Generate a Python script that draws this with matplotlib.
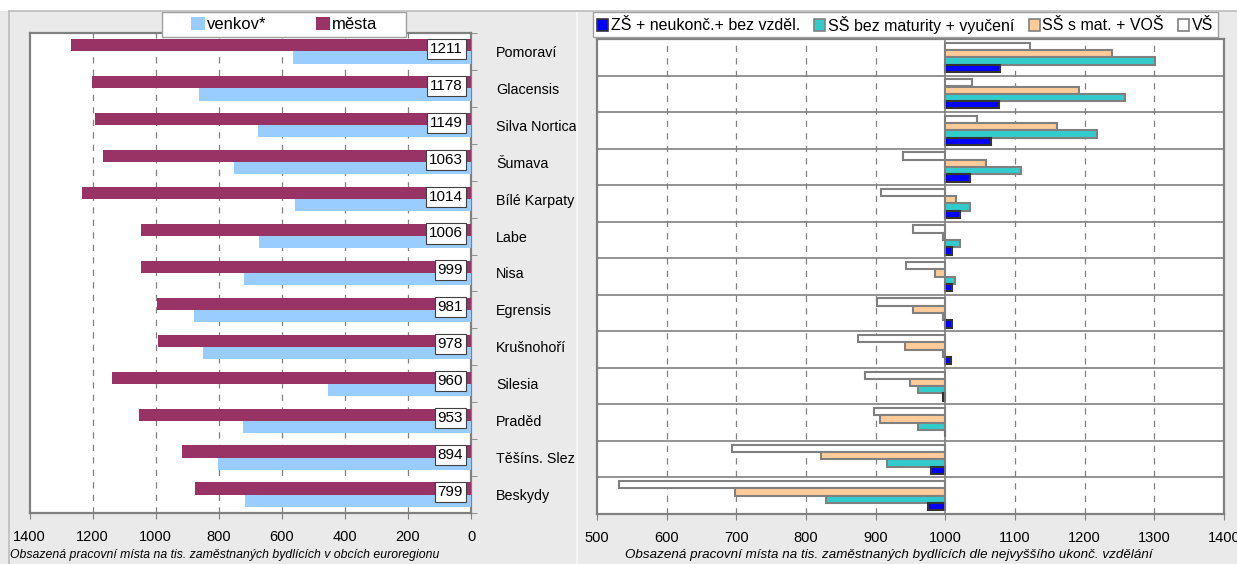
import matplotlib.pyplot as plt
from matplotlib.patches import Patch, Rectangle
from matplotlib.lines import Line2D
import numpy as np

plt.rcParams['font.family'] = ['Liberation Sans', 'DejaVu Sans']

# data
regions = ["Pomoraví", "Glacensis", "Silva Nortica", "Šumava", "Bílé Karpaty", "Labe",
           "Nisa", "Egrensis", "Krušnohoří", "Silesia", "Praděd", "Těšíns. Slez", "Beskydy"]
total = [1211, 1178, 1149, 1063, 1014, 1006, 999, 981, 978, 960, 953, 894, 799]
mesta = [1269, 1202, 1192, 1168, 1234, 1048, 1046, 996, 993, 1139, 1054, 917, 874]
venkov = [563, 861, 674, 753, 557, 673, 719, 878, 850, 455, 724, 803, 717]

zs = [1078, 1077, 1065, 1035, 1021, 1009, 1010, 1010, 1008, 997, 999, 980, 975]
ss_bez = [1301, 1258, 1218, 1108, 1035, 1021, 1014, 996, 996, 961, 961, 916, 829]
ss_mat = [1239, 1192, 1161, 1059, 1015, 997, 985, 954, 942, 949, 906, 821, 698]
vs = [1122, 1038, 1045, 939, 907, 954, 944, 902, 874, 885, 898, 694, 531]

W, H = 1237, 564
fig = plt.figure(figsize=(W / 100, H / 100), dpi=100, facecolor='#EAEAEA')


def px_box(x0, y0, x1, y1, **kw):
    # rectangle in pixel coords (y from top)
    r = Rectangle((x0 / W, 1 - y1 / H), (x1 - x0) / W, (y1 - y0) / H,
                  transform=fig.transFigure, **kw)
    fig.patches.append(r)
    return r


# white strip on top and panel borders
px_box(0, 0, W, 11, facecolor='white', edgecolor='none', zorder=0)
fig.add_artist(Line2D([9 / W, 9 / W], [0, 1 - 11 / H], color='#BDBDBD', lw=1.2))
fig.add_artist(Line2D([577 / W, 577 / W], [0, 1 - 11 / H], color='#F6F6F6', lw=1.5))
fig.add_artist(Line2D([9 / W, 1], [1 - 11 / H, 1 - 11 / H], color='#BDBDBD', lw=1.2))

y = np.arange(len(regions))
grid_grey = '#808080'
dash = (0, (5, 5))

# ---------- left panel ----------
ax1 = fig.add_axes([29.5 / W, (H - 513) / H, (471 - 29.5) / W, (513 - 33) / H])
ax1.barh(y - 0.165, mesta, height=0.33, color='#993366', zorder=3)
ax1.barh(y + 0.165, venkov, height=0.33, color='#99CCFF', zorder=3)
for i, v in enumerate(total):
    ax1.text(25, i - 0.07, str(v), ha='right', va='center', fontsize=11, zorder=5,
             bbox=dict(boxstyle='square,pad=0.2', fc='white', ec='#404040', lw=0.8))
ax1.set_xlim(1400, 0)
ax1.set_ylim(len(regions) - 0.5, -0.5)
ax1.set_xticks(np.arange(1400, -1, -200))
for gx in range(200, 1400, 200):
    ax1.axvline(gx, color=grid_grey, lw=0.9, linestyle=dash, zorder=1)
ax1.yaxis.tick_right()
ax1.set_yticks(y)
ax1.set_yticklabels(regions, fontsize=10.3)
ax1.set_yticks(np.arange(-0.5, len(regions), 1), minor=True)
ax1.tick_params(axis='y', which='major', length=0, pad=18)
ax1.tick_params(axis='y', which='minor', length=4, color=grid_grey, direction='out')
ax1.tick_params(axis='x', labelsize=10.5, length=4, color=grid_grey, pad=8)
for s in ax1.spines.values():
    s.set_color(grid_grey)
    s.set_linewidth(1.6)

px_box(162, 12, 406, 37, facecolor='white', edgecolor='#A0A0A0', lw=1, zorder=1)
fig.legend(handles=[Patch(facecolor='#99CCFF', edgecolor='none', label='venkov*'),
                    Patch(facecolor='#993366', edgecolor='none', label='města')],
           loc='center', bbox_to_anchor=(284 / W, 1 - 24.5 / H),
           ncol=2, fontsize=12, frameon=False, handlelength=0.85, handleheight=0.85,
           handletextpad=0.1, columnspacing=3.0, borderpad=0, borderaxespad=0)

fig.text(10 / W, (H - 555) / H,
         'Obsazená pracovní místa na tis. zaměstnaných bydlících v obcích euroregionu',
         fontsize=8.8, style='italic', ha='left', va='center')

# ---------- right panel ----------
ax2 = fig.add_axes([597 / W, (H - 514) / H, (1224 - 597) / W, (514 - 39) / H])
series = [(vs, 'white', grid_grey, -0.3),
          (ss_mat, '#FFCC99', grid_grey, -0.1),
          (ss_bez, '#33CCCC', grid_grey, 0.1),
          (zs, '#0000FF', '#333333', 0.3)]
for vals, fc, ec, off in series:
    ax2.barh(y + off, np.array(vals) - 1000, left=1000, height=0.2, color=fc,
             edgecolor=ec, linewidth=1.5, zorder=3)
ax2.set_xlim(500, 1400)
ax2.set_ylim(len(regions) - 0.5, -0.5)
ax2.set_xticks(np.arange(500, 1401, 100))
for gx in range(600, 1400, 100):
    if gx != 1000:
        ax2.axvline(gx, color=grid_grey, lw=0.9, linestyle=dash, zorder=1)
ax2.axvline(1000, color=grid_grey, lw=1.2, zorder=4)
for b in np.arange(0.5, len(regions) - 1, 1):
    ax2.axhline(b, color=grid_grey, lw=1.2, zorder=2)
ax2.set_yticks([])
ax2.tick_params(axis='x', labelsize=10.5, length=4, color=grid_grey, pad=8)
for s in ax2.spines.values():
    s.set_color(grid_grey)
    s.set_linewidth(1.6)

px_box(593, 12, 1218, 37, facecolor='white', edgecolor='#A0A0A0', lw=1, zorder=1)
fig.legend(handles=[Patch(facecolor='#0000FF', edgecolor='#333333', lw=1.2, label='ZŠ + neukonč.+ bez vzděl.'),
                    Patch(facecolor='#33CCCC', edgecolor=grid_grey, lw=1.2, label='SŠ bez maturity + vyučení'),
                    Patch(facecolor='#FFCC99', edgecolor=grid_grey, lw=1.2, label='SŠ s mat. + VOŠ'),
                    Patch(facecolor='white', edgecolor=grid_grey, lw=1.2, label='VŠ')],
           loc='center', bbox_to_anchor=(905 / W, 1 - 24.5 / H),
           ncol=4, fontsize=11.5, frameon=False, handlelength=0.7, handleheight=0.7,
           handletextpad=0.15, columnspacing=0.9, borderpad=0, borderaxespad=0)

fig.text(889 / W, (H - 555) / H,
         'Obsazená pracovní místa na tis. zaměstnaných bydlících dle nejvyššího ukonč. vzdělání',
         fontsize=9.6, style='italic', ha='center', va='center')

fig.savefig('out.png', dpi=100, facecolor=fig.get_facecolor())
